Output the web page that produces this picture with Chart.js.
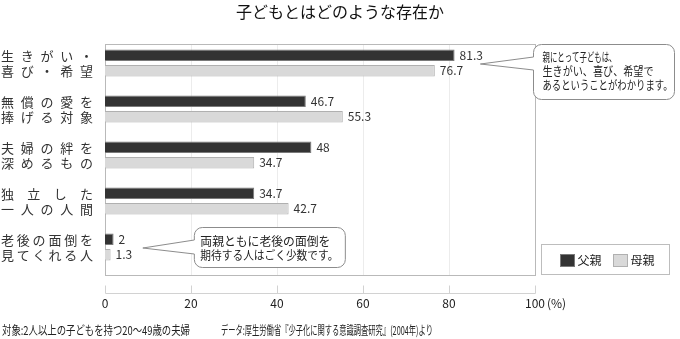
<!DOCTYPE html>
<html>
<head>
<meta charset="utf-8">
<script src="https://cdn.jsdelivr.net/npm/chart.js@4"></script>
<style>
body { margin: 0; background: #fff; }
#wrap { width: 680px; height: 339px; }
</style>
</head>
<body>
<div id="wrap"><canvas id="myChart"></canvas></div>
<script>
// Chart data
const title = "子どもとはどのような存在か";
const categories = [
	["生きがい・", "喜び・希望"],
	["無償の愛を", "捧げる対象"],
	["夫婦の絆を", "深めるもの"],
	["独立した", "一人の人間"],
	["老後の面倒を", "見てくれる人"]
];
const seriesNames = ["父親", "母親"];
const fatherValues = [81.3, 46.7, 48, 34.7, 2];
const motherValues = [76.7, 55.3, 34.7, 42.7, 1.3];
const barColors = ["#333333", "#d9d9d9"];
const borderColors = ["#7a7a7a", "#b0b0b0"];
const xMax = 100;
const xStep = 20;
const unitLabel = "(%)";
const note1 = ["親にとって子どもは、", "生きがい、喜び、希望で", "あるということがわかります。"];
const note2 = ["両親ともに老後の面倒を", "期待する人はごく少数です。"];
const footerLeft = "対象:2人以上の子どもを持つ20～49歳の夫婦";
const footerRight = "データ:厚生労働省『少子化に関する意識調査研究』(2004年)より";

const FONT = "'Noto Sans CJK JP', 'Noto Sans', sans-serif";

// Rounded box with a pointer on its left side
function callout(ctx, bx, by, bw, bh, r, tipX, tipY, t1, t2) {
	ctx.beginPath();
	ctx.moveTo(bx + r, by);
	ctx.lineTo(bx + bw - r, by);
	ctx.arcTo(bx + bw, by, bx + bw, by + r, r);
	ctx.lineTo(bx + bw, by + bh - r);
	ctx.arcTo(bx + bw, by + bh, bx + bw - r, by + bh, r);
	ctx.lineTo(bx + r, by + bh);
	ctx.arcTo(bx, by + bh, bx, by + bh - r, r);
	ctx.lineTo(bx, t2);
	ctx.lineTo(tipX, tipY);
	ctx.lineTo(bx, t1);
	ctx.lineTo(bx, by + r);
	ctx.arcTo(bx, by, bx + r, by, r);
	ctx.closePath();
	ctx.fillStyle = "#fff";
	ctx.fill();
	ctx.strokeStyle = "#8c8c8c";
	ctx.lineWidth = 1;
	ctx.stroke();
}

// Spread the characters of a line over a fixed width
function justify(ctx, text, x0, x1, y) {
	const chars = Array.from(text);
	const widths = chars.map(c => ctx.measureText(c).width);
	const total = widths.reduce((s, w) => s + w, 0);
	const gap = chars.length > 1 ? (x1 - x0 - total) / (chars.length - 1) : 0;
	let x = x0;
	chars.forEach((c, i) => {
		ctx.fillText(c, x, y);
		x += widths[i] + gap;
	});
}

// Draw text squeezed to a width if it is wider
function fitText(ctx, text, x, y, maxW) {
	if (ctx.measureText(text).width > maxW) ctx.fillText(text, x, y, maxW);
	else ctx.fillText(text, x, y);
}

const decor = {
	id: "decor",
	beforeDatasetsDraw(chart) {
		const { ctx, chartArea: a, scales: { x } } = chart;
		const top = Math.round(a.top) + 4.5;
		const bot = Math.round(a.bottom) + 5.5;
		const left = Math.round(a.left) + 0.5;
		const right = Math.round(a.right) + 0.5;
		ctx.save();
		ctx.lineWidth = 1;
		// light gridlines
		ctx.strokeStyle = "#ececec";
		x.ticks.forEach(t => {
			if (t.value <= 0 || t.value >= xMax) return;
			const px = Math.round(x.getPixelForValue(t.value)) + 0.5;
			ctx.beginPath();
			ctx.moveTo(px, top);
			ctx.lineTo(px, bot);
			ctx.stroke();
		});
		// frame
		ctx.strokeStyle = "#b9b9b9";
		ctx.strokeRect(left, top, right - left, bot - top);
		// detached axis line below the frame
		const ay = bot + 18;
		ctx.strokeStyle = "#d2d2d2";
		ctx.beginPath();
		ctx.moveTo(left, ay);
		ctx.lineTo(right, ay);
		x.ticks.forEach(t => {
			const px = Math.round(x.getPixelForValue(t.value)) + 0.5;
			ctx.moveTo(px, ay - 8);
			ctx.lineTo(px, ay);
		});
		ctx.stroke();
		ctx.restore();
	},
	afterDatasetsDraw(chart) {
		const { ctx, chartArea: a, scales: { x, y } } = chart;
		ctx.save();
		ctx.textBaseline = "middle";

		// title, centred on the whole picture
		ctx.font = "16px " + FONT;
		ctx.fillStyle = "#111";
		ctx.textAlign = "center";
		ctx.fillText(title, chart.width / 2, 12);

		// value labels
		ctx.textAlign = "left";
		ctx.font = "12px " + FONT;
		ctx.fillStyle = "#333";
		chart.data.datasets.forEach((ds, di) => {
			chart.getDatasetMeta(di).data.forEach((el, i) => {
				ctx.fillText(String(ds.data[i]), el.x + 5, el.y);
			});
		});

		// category labels
		ctx.font = "13px " + FONT;
		ctx.fillStyle = "#333";
		categories.forEach((lines, i) => {
			const cy = y.getPixelForValue(i);
			justify(ctx, lines[0], 1, 93, cy - 7);
			justify(ctx, lines[1], 1, 93, cy + 8);
		});

		// unit after the last tick label
		ctx.font = "12px " + FONT;
		ctx.fillStyle = "#222";
		ctx.fillText(unitLabel, x.getPixelForValue(xMax) + 12, a.bottom + 33);

		// callouts
		const tip1x = x.getPixelForValue(87.3), tip1y = y.getPixelForValue(0) + 1;
		const b1x = Math.round(a.right) - 1.5;
		callout(ctx, b1x, 44.5, 141, 55, 8, tip1x, tip1y, 57, 70);
		const tip2x = x.getPixelForValue(8.8), tip2y = y.getPixelForValue(4) + 1;
		const b2x = tip2x + 51.5;
		callout(ctx, b2x, 227.5, 151, 40, 8, tip2x, tip2y, 240, 254);
		ctx.font = "12px " + FONT;
		ctx.fillStyle = "#222";
		const w1 = [74, 111, 130];
		note1.forEach((t, i) => fitText(ctx, t, b1x + 9, 57 + i * 14.2, w1[i]));
		const w2 = [130, 138];
		note2.forEach((t, i) => fitText(ctx, t, b2x + 6, 241 + i * 14.7, w2[i]));

		// legend
		const lx = Math.round(a.right) + 6.5, ly = 244.5;
		ctx.strokeStyle = "#bdbdbd";
		ctx.strokeRect(lx, ly, 128, 30);
		chart.data.datasets.forEach((ds, di) => {
			const sx = lx + 19 + di * 53;
			ctx.fillStyle = ds.backgroundColor;
			ctx.fillRect(sx, ly + 10, 14, 12);
			ctx.strokeStyle = ds.borderColor;
			ctx.strokeRect(sx, ly + 10, 14, 12);
			ctx.fillStyle = "#222";
			ctx.font = "12px " + FONT;
			ctx.fillText(ds.label, sx + 17, ly + 16);
		});

		// footer note
		ctx.font = "12px " + FONT;
		ctx.fillStyle = "#222";
		ctx.fillText(footerLeft, 2, 330, 188);
		ctx.fillText(footerRight, 221, 330, 212);
		ctx.restore();
	}
};

new Chart("myChart", {
	type: "bar",
	data: {
		labels: categories,
		datasets: [
			{ label: seriesNames[0], data: fatherValues, backgroundColor: barColors[0], borderColor: borderColors[0], borderWidth: 1 },
			{ label: seriesNames[1], data: motherValues, backgroundColor: barColors[1], borderColor: borderColors[1], borderWidth: 1 }
		]
	},
	options: {
		indexAxis: "y",
		responsive: true,
		maintainAspectRatio: false,
		animation: false,
		categoryPercentage: 0.674,
		barPercentage: 0.74,
		layout: { padding: { left: 105, right: 145, top: 40, bottom: 29 } },
		scales: {
			x: {
				min: 0,
				max: xMax,
				ticks: { stepSize: xStep, padding: 26, maxRotation: 0, color: "#222", font: { size: 12, family: FONT } },
				grid: { display: false, drawTicks: false },
				border: { display: false },
				afterFit(scale) { scale.height = 40; }
			},
			y: { display: false }
		},
		plugins: {
			legend: { display: false },
			tooltip: { enabled: false },
			title: { display: false }
		}
	},
	plugins: [decor]
});
</script>
</body>
</html>
